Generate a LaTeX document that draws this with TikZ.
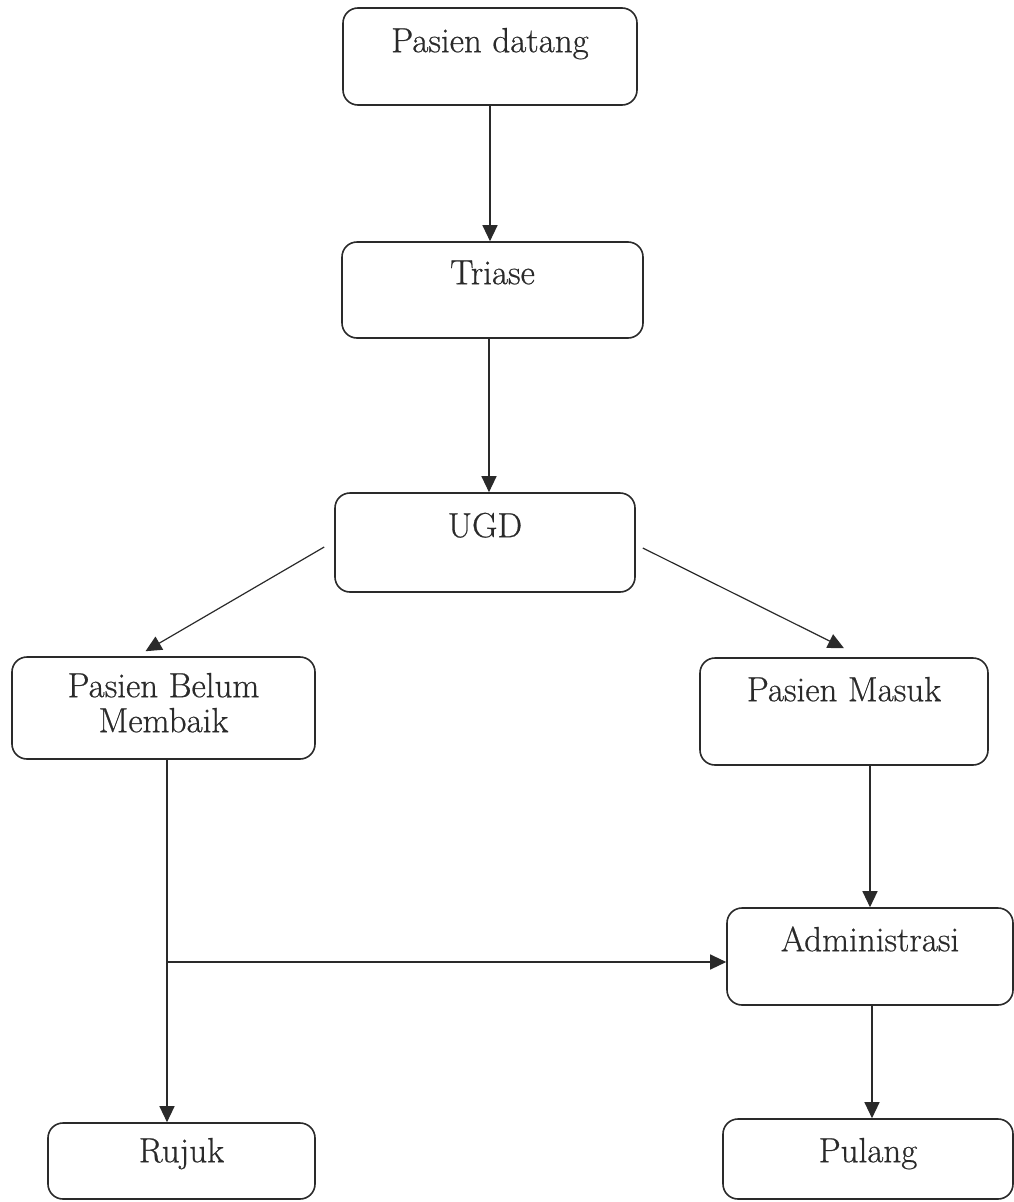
\documentclass[tikz,border=0pt]{standalone}
\usepackage{fontspec}
\setmainfont{Latin Modern Roman}[UprightFeatures={FakeBold=0.6}]
\usetikzlibrary{arrows.meta,calc}
\definecolor{ink}{HTML}{2A2A2A}
\begin{document}
\begin{tikzpicture}[x=1pt,y=-1pt,
  box/.style={draw=ink, line width=1.6pt, rounded corners=15pt, inner sep=0pt},
  txt/.style={text=ink, inner sep=0pt, font=\fontsize{35}{35}\selectfont, align=center},
  conn/.style={draw=ink, line width=1.2pt, -{Triangle[length=16pt,width=15pt]}}]
\useasboundingbox (0,0) rectangle (1014,1202);
% boxes: centre, width, height
\node[box, minimum width=294pt, minimum height=97pt] (datang) at (490,56.5) {};
\node[box, minimum width=301pt, minimum height=96pt] (triase) at (492.5,290) {};
\node[box, minimum width=300pt, minimum height=99pt] (ugd) at (485,542.5) {};
\node[box, minimum width=303pt, minimum height=102pt] (belum) at (163.5,708) {};
\node[box, minimum width=288pt, minimum height=107pt] (masuk) at (844,711.5) {};
\node[box, minimum width=286pt, minimum height=97pt] (admin) at (870,956.5) {};
\node[box, minimum width=267pt, minimum height=76pt] (rujuk) at (181.5,1161) {};
\node[box, minimum width=290pt, minimum height=80pt] (pulang) at (868,1159) {};
% texts
\node[txt, anchor=base] (t-datang) at ([yshift=-45pt]datang.north) {Pasien datang};
\node[txt, anchor=base] (t-triase) at ([yshift=-43pt]triase.north) {Triase};
\node[txt, anchor=base] (t-ugd) at ([yshift=-45pt]ugd.north) {UGD};
\node[txt] (t-belum) at ([yshift=-46.5pt]belum.north) {Pasien Belum\\Membaik};
\node[txt, anchor=base] (t-masuk) at ([yshift=-44pt]masuk.north) {Pasien Masuk};
\node[txt, anchor=base] (t-admin) at ([yshift=-44pt]admin.north) {Administrasi};
\node[txt, anchor=base] (t-rujuk) at ([yshift=-40pt]rujuk.north) {Rujuk};
\node[txt, anchor=base] (t-pulang) at ([yshift=-44pt]pulang.north) {Pulang};
% connectors
\draw[conn] (datang.south) -- (datang.south |- triase.north);
\draw[conn] ([xshift=-3.5pt]triase.south) -- ([xshift=-3.5pt]triase.south |- ugd.north);
\draw[conn] ([xshift=-10pt,yshift=-4.5pt]ugd.west) -- ([xshift=-18pt,yshift=5pt]belum.north);
\draw[conn] ([xshift=7pt,yshift=-5.5pt]ugd.east) -- ([yshift=9pt]masuk.north);
\coordinate (bl) at ([xshift=3.5pt]belum.south);
\draw[conn] (bl) -- (bl |- rujuk.north);
\coordinate (j) at (bl |- 0,962);
\draw[conn] (j) -- ([yshift=-5.5pt]admin.west);
\draw[conn] (admin.north |- masuk.south) -- (admin.north);
\draw[conn] ([xshift=2pt]admin.south) -- ([xshift=2pt]admin.south |- pulang.north);
\end{tikzpicture}
\end{document}
